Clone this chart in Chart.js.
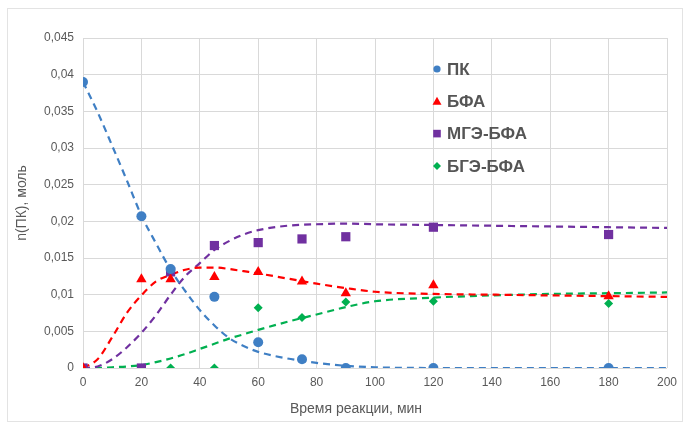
<!DOCTYPE html>
<html lang="ru">
<head>
<meta charset="utf-8">
<title>n(ПК)</title>
<style>
  html, body { margin: 0; padding: 0; background: #fff; }
  #box { position: relative; width: 686px; height: 422px; }
</style>
</head>
<body>

<div id="box">
  <canvas id="myChart" width="686" height="422"></canvas>
</div>

<script src="https://cdn.jsdelivr.net/npm/chart.js@4.4.0/dist/chart.umd.min.js"></script>
<script>
// измеренные точки
var timeMin = [0, 20, 30, 45, 60, 75, 90, 120, 180];
var pk      = [0.039, 0.0207, 0.0135, 0.0097, 0.0035, 0.0012, 0, 0, 0];
var bfa     = [0, 0.0121, 0.0121, 0.0124, 0.0131, 0.0118, 0.0102, 0.0113, 0.0098];
var mge     = [0, 0, 0.0131, 0.0167, 0.0171, 0.0176, 0.0179, 0.0192, 0.0182];
var bge     = [0, 0, 0, 0, 0.0082, 0.0069, 0.009, 0.0091, 0.0088];

// расчетные кривые
var fitTime = [0, 5, 10, 15, 20, 25, 30, 35, 40, 45, 50, 55, 60, 70, 80, 90, 100, 120, 140, 160, 180, 200];
var pkFit   = [0.039, 0.0349, 0.0303, 0.0256, 0.0208, 0.017, 0.0134, 0.0105, 0.0079, 0.0058, 0.0041, 0.003, 0.0022, 0.0013, 0.0007, 0.0003, 0.0001, 0, 0, 0, 0, 0];
var bfaFit  = [0, 0.0012, 0.0042, 0.0075, 0.0099, 0.0118, 0.0127, 0.0134, 0.0137, 0.0137, 0.0135, 0.0132, 0.0129, 0.0122, 0.0115, 0.0109, 0.0104, 0.0101, 0.01, 0.0099, 0.0098, 0.0097];
var mgeFit  = [0, 0.0002, 0.0012, 0.0028, 0.0048, 0.0072, 0.01, 0.0125, 0.0143, 0.0161, 0.0173, 0.0182, 0.0188, 0.0194, 0.0196, 0.0197, 0.0196, 0.0195, 0.0194, 0.0193, 0.0192, 0.0191];
var bgeFit  = [0, 0, 0.0001, 0.0002, 0.0004, 0.0008, 0.0013, 0.0019, 0.0026, 0.0033, 0.004, 0.0046, 0.0052, 0.0063, 0.0073, 0.0083, 0.0091, 0.0096, 0.0099, 0.0101, 0.0102, 0.0103];

var names   = ['ПК', 'БФА', 'МГЭ-БФА', 'БГЭ-БФА'];
var colors  = ['#3f7fc4', '#ff0000', '#7030a0', '#00b050'];
var shapes  = ['circle', 'triangle', 'rect', 'rectRot'];
var sizes   = [5, 6, 6.5, 4.5];

var xTicks = [0, 20, 40, 60, 80, 100, 120, 140, 160, 180, 200];
var xTitle = 'Время реакции, мин';

function pts(xs, ys) {
  return xs.map(function (x, i) { return { x: x, y: ys[i] }; });
}

var measured = [pk, bfa, mge, bge];
var fitted = [pkFit, bfaFit, mgeFit, bgeFit];
var datasets = [];

measured.forEach(function (arr, i) {
  datasets.push({
    label: names[i],
    data: pts(timeMin, arr),
    showLine: false,
    pointStyle: shapes[i],
    pointRadius: sizes[i],
    pointHoverRadius: sizes[i],
    backgroundColor: colors[i],
    borderColor: colors[i],
    borderWidth: 0,
    order: 0
  });
});
fitted.forEach(function (arr, i) {
  datasets.push({
    label: names[i] + ' fit',
    data: pts(fitTime, arr),
    showLine: true,
    pointRadius: 0,
    borderColor: colors[i],
    borderWidth: 2.2,
    borderDash: [7, 5],
    cubicInterpolationMode: 'monotone',
    fill: false,
    order: 1
  });
});

function fmt(v) {
  return String(+v.toFixed(4)).replace('.', ',');
}

var FONT = '"Liberation Sans", Arial, sans-serif';

// рамка, подпись оси X и легенда внутри области построения
const extras = {
  id: 'extras',
  beforeDraw: (chart) => {
    const ctx = chart.ctx;
    ctx.save();
    ctx.strokeStyle = '#e3e3e3';
    ctx.lineWidth = 1;
    ctx.strokeRect(7.5, 8.5, 675, 413);
    ctx.restore();
  },
  afterDraw: (chart) => {
    const ctx = chart.ctx;
    ctx.save();
    ctx.fillStyle = '#595959';
    ctx.font = '14px ' + FONT;
    ctx.textAlign = 'center';
    ctx.textBaseline = 'middle';
    ctx.fillText(xTitle, 356, 409);

    const mx = 437, ty = 69, step = 32.3;
    ctx.textAlign = 'left';
    names.forEach(function (n, i) {
      const y = ty + i * step;
      ctx.fillStyle = colors[i];
      ctx.beginPath();
      if (i === 0) {
        ctx.arc(mx, y, 3.6, 0, Math.PI * 2);
      } else if (i === 1) {
        ctx.moveTo(mx, y - 4.5); ctx.lineTo(mx + 4.5, y + 3.5); ctx.lineTo(mx - 4.5, y + 3.5); ctx.closePath();
      } else if (i === 2) {
        ctx.rect(mx - 3.8, y - 3.8, 7.6, 7.6);
      } else {
        ctx.moveTo(mx, y - 4); ctx.lineTo(mx + 4, y); ctx.lineTo(mx, y + 4); ctx.lineTo(mx - 4, y); ctx.closePath();
      }
      ctx.fill();
      ctx.fillStyle = '#555555';
      ctx.font = 'bold 17px ' + FONT;
      ctx.fillText(n, 447, y + 1);
    });
    ctx.restore();
  }
};

const ctx = document.getElementById('myChart');
const myChart = new Chart(ctx, {
  type: 'scatter',
  data: { datasets: datasets },
  options: {
    responsive: false,
    animation: false,
    layout: { padding: { top: 38, right: 19, left: 0, bottom: 0 } },
    plugins: {
      legend: { display: false },
      tooltip: { enabled: false }
    },
    scales: {
      x: {
        type: 'linear',
        min: 0, max: 200,
        afterBuildTicks: (s) => { s.ticks = xTicks.map(v => ({ value: v })); },
        afterFit: (s) => { s.height = 54; },
        grid: { color: '#d9d9d9', lineWidth: 1, drawTicks: false },
        border: { display: false },
        ticks: { color: '#595959', font: { size: 12, family: FONT }, padding: 7, maxRotation: 0 }
      },
      y: {
        min: 0, max: 0.045,
        ticks: {
          stepSize: 0.005, color: '#595959', padding: 9,
          font: { size: 12, family: FONT },
          callback: (v) => fmt(v)
        },
        afterFit: (s) => { s.width = 83; },
        grid: { color: '#d9d9d9', lineWidth: 1, drawTicks: false },
        border: { display: false },
        title: {
          display: true, text: 'n(ПК), моль', color: '#595959',
          font: { size: 14, family: FONT },
          padding: { top: 14, bottom: 0 }
        }
      }
    }
  },
  plugins: [extras]
});
</script>
</body>
</html>
